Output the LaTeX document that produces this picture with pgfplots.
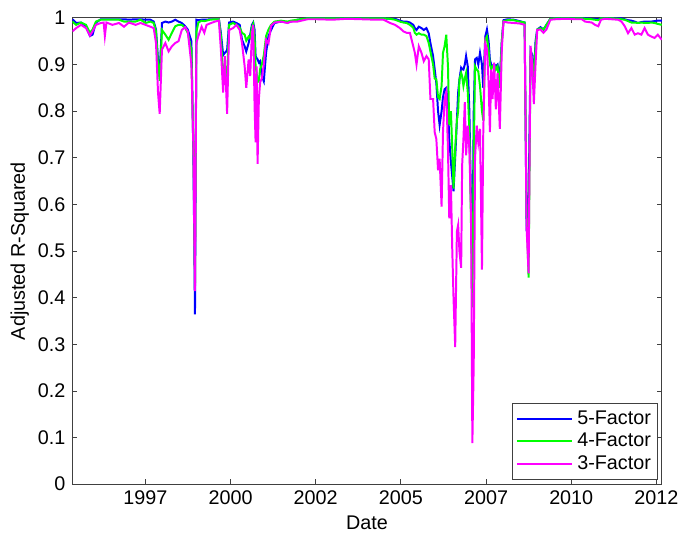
\documentclass[border=0pt]{standalone}
\usepackage{fontspec}
\setmainfont{Liberation Sans}
\usepackage{pgfplots}
\pgfplotsset{compat=1.18}
\usepackage{pgfplotstable}
\usetikzlibrary{calc}

% adjusted R-squared, columns: date (years), 5-factor, 4-factor, 3-factor
\pgfplotstableread{
t b g m
1995.560 0.997 0.992 0.971
1995.668 0.989 0.985 0.978
1995.813 0.990 0.990 0.985
1995.959 0.981 0.985 0.978
1996.075 0.961 0.968 0.962
1996.151 0.964 0.975 0.971
1996.250 0.990 0.992 0.985
1996.395 0.997 0.996 0.989
1996.477 0.997 0.996 0.990
1996.512 0.997 0.996 0.961
1996.558 0.997 0.996 0.990
1996.733 0.997 0.996 0.985
1996.928 0.997 0.996 0.989
1997.073 0.997 0.992 0.981
1997.219 0.996 0.992 0.990
1997.414 0.997 0.992 0.985
1997.559 0.997 0.996 0.989
1997.705 0.996 0.989 0.985
1997.850 0.996 0.992 0.981
1997.946 0.992 0.989 0.978
1998.013 0.975 0.971 0.946
1998.072 0.911 0.900 0.840
1998.121 0.880 0.865 0.794
1998.188 0.989 0.974 0.932
1998.287 0.992 0.964 0.946
1998.383 0.990 0.953 0.928
1998.479 0.992 0.968 0.939
1998.578 0.996 0.982 0.946
1998.674 0.992 0.985 0.950
1998.770 0.989 0.985 0.974
1998.869 0.982 0.978 0.980
1998.945 0.975 0.968 0.971
1999.052 0.950 0.930 0.900
1999.111 0.700 0.720 0.720
1999.157 0.364 0.420 0.414
1999.198 0.996 0.970 0.946
1999.256 0.995 0.990 0.961
1999.352 0.996 0.994 0.981
1999.431 0.996 0.993 0.968
1999.498 0.996 0.994 0.985
1999.597 0.997 0.996 0.988
1999.742 0.997 0.997 0.992
1999.859 0.997 0.997 0.994
1999.917 0.968 0.960 0.932
1999.984 0.920 0.875 0.840
2000.033 0.925 0.900 0.918
2000.100 0.930 0.875 0.794
2000.158 0.990 0.985 0.974
2000.275 0.992 0.989 0.978
2000.371 0.989 0.985 0.985
2000.470 0.985 0.979 0.974
2000.537 0.953 0.968 0.946
2000.615 0.939 0.964 0.896
2000.662 0.928 0.951 0.850
2000.732 0.946 0.960 0.911
2000.778 0.964 0.957 0.875
2000.828 0.985 0.980 0.967
2000.866 0.990 0.987 0.985
2000.906 0.975 0.960 0.811
2000.936 0.918 0.896 0.733
2000.965 0.914 0.883 0.896
2000.994 0.911 0.862 0.687
2001.032 0.904 0.865 0.826
2001.069 0.907 0.890 0.862
2001.119 0.875 0.900 0.870
2001.177 0.864 0.920 0.900
2001.244 0.925 0.961 0.953
2001.314 0.961 0.975 0.945
2001.390 0.974 0.985 0.983
2001.489 0.989 0.992 0.990
2001.681 0.992 0.994 0.992
2001.876 0.990 0.992 0.989
2001.972 0.992 0.994 0.992
2002.167 0.996 0.996 0.992
2002.458 0.999 0.999 0.997
2002.749 0.999 0.999 0.997
2003.185 0.999 0.999 0.996
2003.622 0.999 0.999 0.998
2004.058 0.999 0.999 0.997
2004.495 0.999 0.999 0.996
2004.690 0.999 0.999 0.996
2004.882 0.998 0.998 0.989
2005.028 0.998 0.996 0.985
2005.173 0.994 0.992 0.978
2005.272 0.992 0.990 0.971
2005.368 0.992 0.989 0.968
2005.464 0.990 0.985 0.968
2005.563 0.985 0.979 0.939
2005.610 0.978 0.968 0.925
2005.659 0.974 0.964 0.900
2005.726 0.981 0.967 0.939
2005.805 0.978 0.964 0.925
2005.872 0.974 0.964 0.907
2005.950 0.978 0.961 0.918
2006.017 0.967 0.946 0.911
2006.067 0.946 0.928 0.826
2006.145 0.918 0.900 0.826
2006.192 0.890 0.870 0.755
2006.241 0.860 0.868 0.740
2006.291 0.800 0.830 0.673
2006.337 0.770 0.826 0.698
2006.395 0.800 0.854 0.595
2006.436 0.830 0.925 0.755
2006.483 0.847 0.939 0.826
2006.532 0.850 0.964 0.840
2006.582 0.810 0.896 0.719
2006.620 0.740 0.770 0.570
2006.669 0.690 0.800 0.641
2006.707 0.660 0.720 0.506
2006.745 0.628 0.634 0.400
2006.794 0.700 0.720 0.294
2006.844 0.780 0.780 0.542
2006.881 0.840 0.800 0.556
2006.919 0.868 0.868 0.499
2006.969 0.893 0.882 0.464
2006.998 0.890 0.875 0.684
2007.036 0.889 0.854 0.740
2007.076 0.900 0.870 0.819
2007.114 0.918 0.882 0.705
2007.164 0.896 0.840 0.769
2007.210 0.800 0.760 0.719
2007.260 0.600 0.550 0.577
2007.298 0.450 0.379 0.088
2007.338 0.800 0.700 0.258
2007.376 0.911 0.896 0.698
2007.426 0.914 0.889 0.769
2007.472 0.900 0.885 0.733
2007.522 0.925 0.854 0.762
2007.580 0.900 0.800 0.460
2007.618 0.850 0.780 0.755
2007.676 0.960 0.953 0.946
2007.726 0.975 0.960 0.932
2007.775 0.950 0.930 0.861
2007.813 0.910 0.900 0.755
2007.851 0.900 0.890 0.889
2007.891 0.896 0.896 0.826
2007.938 0.900 0.900 0.904
2007.987 0.896 0.889 0.804
2008.037 0.900 0.896 0.882
2008.104 0.870 0.850 0.762
2008.162 0.950 0.950 0.932
2008.212 0.995 0.993 0.992
2008.337 0.997 0.995 0.990
2008.511 0.996 0.995 0.989
2008.686 0.993 0.992 0.988
2008.831 0.990 0.990 0.985
2008.890 0.542 0.580 0.550
2008.948 0.600 0.443 0.452
2009.006 0.930 0.930 0.940
2009.056 0.920 0.910 0.900
2009.102 0.870 0.860 0.815
2009.152 0.950 0.940 0.900
2009.201 0.975 0.975 0.974
2009.297 0.980 0.978 0.975
2009.384 0.975 0.975 0.968
2009.472 0.985 0.985 0.975
2009.588 0.998 0.998 0.996
2009.734 0.999 0.999 0.997
2010.025 0.999 0.999 0.998
2010.316 0.999 0.999 0.997
2010.511 0.999 0.999 0.997
2010.607 0.999 0.998 0.992
2010.802 0.998 0.997 0.990
2010.898 0.998 0.996 0.985
2010.994 0.997 0.995 0.982
2011.072 0.999 0.999 0.996
2011.189 0.999 0.999 0.998
2011.384 0.999 0.999 0.997
2011.576 0.999 0.998 0.996
2011.675 0.999 0.997 0.992
2011.771 0.997 0.996 0.982
2011.867 0.995 0.993 0.967
2011.966 0.994 0.990 0.978
2012.062 0.992 0.990 0.964
2012.158 0.989 0.989 0.967
2012.257 0.991 0.990 0.964
2012.353 0.992 0.989 0.978
2012.449 0.992 0.989 0.964
2012.548 0.992 0.990 0.960
2012.644 0.993 0.989 0.957
2012.740 0.994 0.987 0.964
2012.857 0.994 0.985 0.953
}\rsq

\begin{document}
\begin{tikzpicture}
\begin{axis}[
    scale only axis,
    width=297bp, height=235bp,
    xmin=1995.56, xmax=2012.857,
    ymin=0, ymax=1,
    xtick={1997.7,2000.2,2002.7,2005.2,2007.7,2010.2,2012.7},
    xticklabels={1997,2000,2002,2005,2007,2010,2012},
    ytick={0,0.1,0.2,0.3,0.4,0.5,0.6,0.7,0.8,0.9,1},
    tick align=inside,
    major tick length=2.5bp,
    axis line style={black!75, line width=0.4pt},
    every tick/.style={black!75, line width=0.4pt},
    /pgf/number format/assume math mode=true,
    xlabel={Date},
    ylabel={Adjusted R-Squared},
    xlabel style={at={(rel axis cs:0.5,-0.083)}, anchor=center},
    ylabel style={at={(rel axis cs:-0.0892,0.5)}, anchor=center},
    legend style={
        at={(rel axis cs:0.994,0.01)}, anchor=south east,
        draw=black!75, line width=0.4pt,
        cells={anchor=west},
        inner sep=1.5bp, row sep=-1bp
    },
    legend image code/.code={\draw[#1] (0bp,0bp) -- (28bp,0bp);},
]
\addplot[blue, line width=1pt] table[x=t, y=b] {\rsq};
\addplot[green, line width=1pt] table[x=t, y=g] {\rsq};
\addplot[color={rgb,1:red,1;green,0;blue,1}, line width=1pt] table[x=t, y=m] {\rsq};
\legend{5-Factor, 4-Factor, 3-Factor}
\coordinate (bl) at (rel axis cs:0,0);
\coordinate (tr) at (rel axis cs:1,1);
\end{axis}
\path ($(bl)+(-36.5bp,-26bp)$) rectangle ($(tr)+(8.85bp,9bp)$);
\end{tikzpicture}
\end{document}
